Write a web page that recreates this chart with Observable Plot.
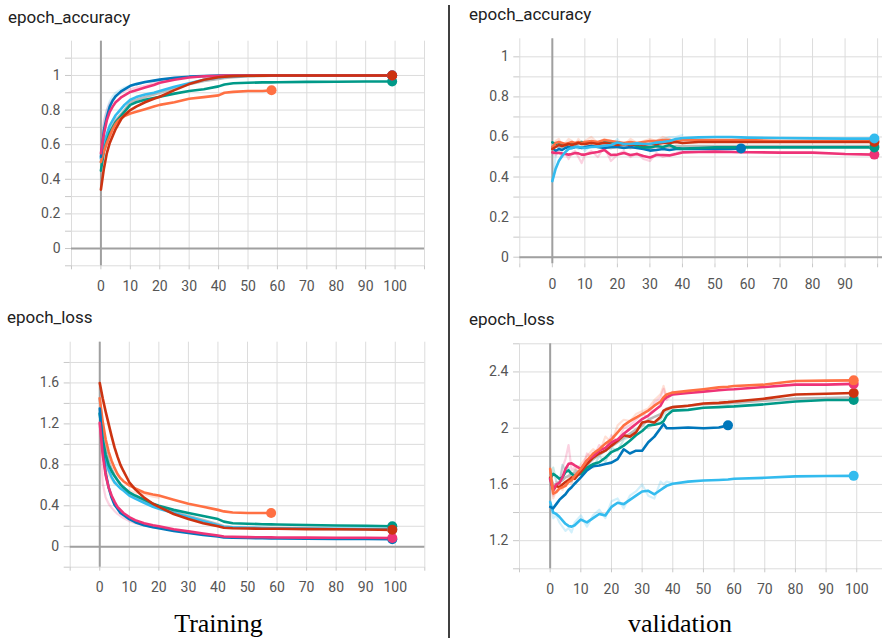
<!DOCTYPE html>
<html>
<head>
<meta charset="utf-8">
<script src="https://cdn.jsdelivr.net/npm/d3@7"></script>
<script src="https://cdn.jsdelivr.net/npm/@observablehq/plot@0.6"></script>
<style>
  html, body { margin: 0; padding: 0; background: #fff; }
  body { width: 882px; height: 638px; overflow: hidden; position: relative; font-family: Roboto, sans-serif; }
  .panel { position: absolute; }
  .panel svg { display: block; }
  #overlay { position: absolute; left: 0; top: 0; pointer-events: none; }
</style>
</head>
<body>
<div id="p1" class="panel" style="left:0;top:0"></div>
<div id="p2" class="panel" style="left:441px;top:0"></div>
<div id="p3" class="panel" style="left:0;top:300px"></div>
<div id="p4" class="panel" style="left:441px;top:300px"></div>
<svg id="overlay" width="882" height="638">
  <text x="8" y="23" font-family="Roboto" font-size="17" fill="#212121">epoch_accuracy</text>
  <text x="469" y="20" font-family="Roboto" font-size="17" fill="#212121">epoch_accuracy</text>
  <text x="7" y="323" font-family="Roboto" font-size="17" fill="#212121">epoch_loss</text>
  <text x="469" y="325" font-family="Roboto" font-size="17" fill="#212121">epoch_loss</text>
  <text x="218.5" y="632" text-anchor="middle" font-family="Liberation Serif" font-size="26" fill="#000">Training</text>
  <text x="680" y="632" text-anchor="middle" font-family="Liberation Serif" font-size="26" fill="#000">validation</text>
  <line x1="449" x2="449" y1="5" y2="638" stroke="#000" stroke-width="1.5"></line>
</svg>
<script>
// ---- series colours (TensorBoard palette) ----
const COLORS = { blue: "#0077bb", cyan: "#33bbee", teal: "#009988", orange: "#ff7043", red: "#cc3311", pink: "#ee3377", gray: "#bbbbbb" };

// ---- axis ticks ----
const X_GRID = [-10, 0, 10, 20, 30, 40, 50, 60, 70, 80, 90, 100, 110];
const X_LABELS = [0, 10, 20, 30, 40, 50, 60, 70, 80, 90, 100];
const X_LABELS_VAL_ACC = [0, 10, 20, 30, 40, 50, 60, 70, 80, 90];
const ACC_GRID_TRAIN = [-0.1, 0, 0.1, 0.2, 0.3, 0.4, 0.5, 0.6, 0.7, 0.8, 0.9, 1.0, 1.1];
const ACC_GRID_VAL = [0, 0.1, 0.2, 0.3, 0.4, 0.5, 0.6, 0.7, 0.8, 0.9, 1.0];
const ACC_LABELS = [0, 0.2, 0.4, 0.6, 0.8, 1];
const LOSS_GRID_TRAIN = [-0.2, 0, 0.2, 0.4, 0.6, 0.8, 1.0, 1.2, 1.4, 1.6, 1.8];
const LOSS_LABELS_TRAIN = [0, 0.4, 0.8, 1.2, 1.6];
const LOSS_GRID_VAL = [1.0, 1.2, 1.4, 1.6, 1.8, 2.0, 2.2, 2.4, 2.6];
const LOSS_LABELS_VAL = [1.2, 1.6, 2, 2.4];

// ---- Training accuracy ----
const trainAccEpochs = [0,1,2,3,4,5,6,7,8,10,12,15,18,20,25,30,35,40,42,45,50,55,58,60,70,80,90,99];
const trainAccGray   = [0.50,0.58,0.64,0.68,0.71,0.74,0.76,0.78,0.80,0.845,0.86,0.875,0.89,0.90,0.925,0.95,0.968,0.98,0.985,0.99,0.995,0.997,0.998,0.998,0.999,1,1,1];
const trainAccCyan   = [0.52,0.60,0.66,0.71,0.74,0.77,0.79,0.81,0.83,0.86,0.875,0.89,0.90,0.91,0.935,0.955,0.975,0.988,0.992,0.995,0.998,0.999,1,1,1,1,1,1];
const trainAccTeal   = [0.45,0.56,0.62,0.67,0.70,0.73,0.75,0.77,0.79,0.83,0.845,0.86,0.87,0.877,0.895,0.91,0.92,0.937,0.948,0.955,0.958,0.96,0.96,0.961,0.963,0.964,0.965,0.965];
const trainAccOrange = [0.50,0.56,0.61,0.65,0.69,0.72,0.74,0.755,0.765,0.78,0.79,0.805,0.82,0.83,0.845,0.865,0.875,0.885,0.90,0.905,0.91,0.91,0.915];
const trainAccBlue   = [0.53,0.68,0.76,0.82,0.855,0.88,0.895,0.91,0.92,0.94,0.95,0.962,0.97,0.976,0.986,0.993,0.997,0.999,1,1,1,1,1,1,1,1,1,1];
const trainAccPink   = [0.55,0.66,0.74,0.79,0.82,0.845,0.86,0.875,0.885,0.905,0.915,0.93,0.945,0.958,0.975,0.988,0.995,0.998,1,1,1,1,1,1,1,1,1,1];
const trainAccRed    = [0.34,0.46,0.55,0.61,0.65,0.69,0.72,0.75,0.77,0.80,0.82,0.845,0.865,0.877,0.915,0.95,0.975,0.99,0.993,0.996,0.998,0.999,1,1,1,1,1,1];
// raw (unsmoothed) faint traces, first epochs
const trainAccRawEpochs = [0,1,2,3,4,5,6,7,8,10,12,15,18,20];
const trainAccPinkRaw   = [0.60,0.74,0.80,0.84,0.86,0.88,0.89,0.90,0.91,0.92,0.93,0.94,0.955,0.96];
const trainAccCyanRaw   = [0.55,0.72,0.80,0.85,0.88,0.90,0.91,0.92,0.93,0.94,0.95,0.96,0.97,0.975];

// ---- Validation accuracy ----
const valAccEpochs = [0,1,2,3,4,5,6,7,8,9,10,12,14,16,18,20,22,24,26,28,30,32,34,36,38,40,45,50,55,58,60,70,80,90,99];
const valAccGray   = [0.56,0.555,0.55,0.55,0.555,0.55,0.55,0.555,0.55,0.55,0.55,0.555,0.55,0.55,0.545,0.55,0.55,0.545,0.55,0.55,0.545,0.55,0.55,0.55,0.555,0.555,0.555,0.555,0.555,0.555,0.555,0.555,0.555,0.555,0.555];
const valAccBlue   = [0.548,0.53,0.54,0.535,0.545,0.55,0.545,0.55,0.55,0.545,0.55,0.555,0.55,0.545,0.55,0.55,0.545,0.55,0.545,0.54,0.532,0.535,0.54,0.535,0.54,0.54,0.54,0.54,0.54,0.543];
const valAccPink   = [0.523,0.52,0.52,0.518,0.515,0.512,0.515,0.52,0.518,0.512,0.512,0.52,0.525,0.535,0.51,0.512,0.52,0.51,0.515,0.505,0.498,0.51,0.51,0.508,0.515,0.523,0.525,0.527,0.525,0.524,0.524,0.522,0.522,0.515,0.512];
const valAccTeal   = [0.573,0.565,0.57,0.565,0.56,0.565,0.57,0.565,0.57,0.575,0.568,0.575,0.57,0.578,0.572,0.565,0.565,0.568,0.555,0.548,0.548,0.555,0.55,0.56,0.545,0.542,0.545,0.548,0.548,0.548,0.548,0.548,0.548,0.548,0.548];
const valAccOrange = [0.55,0.57,0.575,0.57,0.565,0.57,0.575,0.57,0.575,0.57,0.575,0.58,0.575,0.585,0.58,0.575,0.57,0.575,0.57,0.575,0.58,0.58,0.585,0.585,0.58,0.585,0.585,0.585,0.585,0.585,0.585,0.58,0.58,0.58,0.58];
const valAccRed    = [0.54,0.55,0.56,0.555,0.56,0.565,0.56,0.565,0.57,0.565,0.565,0.57,0.565,0.57,0.565,0.56,0.565,0.56,0.565,0.56,0.565,0.565,0.57,0.57,0.575,0.57,0.575,0.575,0.575,0.575,0.575,0.575,0.575,0.575,0.575];
const valAccCyan   = [0.38,0.44,0.48,0.505,0.525,0.54,0.545,0.55,0.55,0.548,0.545,0.55,0.552,0.556,0.56,0.572,0.565,0.565,0.568,0.565,0.565,0.572,0.575,0.58,0.59,0.595,0.598,0.6,0.6,0.598,0.597,0.595,0.593,0.592,0.592];
// raw faint traces (epochs 0..40)
const valAccRawEpochs = [0,1,2,3,4,5,6,7,8,9,10,12,14,16,18,20,22,24,26,28,30,32,34,36,38,40];
const valAccPinkRaw   = [0.52,0.51,0.53,0.50,0.52,0.49,0.52,0.53,0.50,0.47,0.51,0.53,0.50,0.55,0.48,0.51,0.53,0.50,0.52,0.49,0.48,0.52,0.50,0.51,0.52,0.53];
const valAccCyanRaw   = [0.38,0.50,0.55,0.54,0.56,0.57,0.55,0.56,0.54,0.55,0.53,0.56,0.55,0.57,0.56,0.59,0.55,0.57,0.56,0.57,0.56,0.58,0.59,0.60,0.60,0.61];
const valAccOrangeRaw = [0.55,0.58,0.59,0.56,0.57,0.59,0.58,0.56,0.59,0.57,0.58,0.60,0.57,0.59,0.58,0.57,0.56,0.59,0.57,0.58,0.59,0.58,0.60,0.59,0.58,0.59];

// ---- Training loss ----
const trainLossEpochs = [0,1,2,3,4,5,6,7,8,10,12,15,18,20,25,30,35,40,42,45,50,55,58,60,70,80,90,99];
const trainLossGray   = [1.45,1.15,0.96,0.84,0.76,0.70,0.65,0.61,0.58,0.53,0.49,0.45,0.41,0.39,0.34,0.30,0.26,0.22,0.20,0.19,0.185,0.18,0.178,0.177,0.175,0.172,0.17,0.168];
const trainLossCyan   = [1.30,1.02,0.85,0.75,0.68,0.63,0.60,0.57,0.55,0.50,0.47,0.43,0.39,0.37,0.33,0.29,0.25,0.21,0.195,0.19,0.185,0.183,0.181,0.18,0.178,0.176,0.174,0.172];
const trainLossOrange = [1.45,1.22,1.05,0.93,0.84,0.77,0.71,0.67,0.64,0.60,0.57,0.53,0.51,0.50,0.46,0.42,0.39,0.36,0.345,0.335,0.33,0.33,0.33];
const trainLossTeal   = [1.30,1.05,0.90,0.80,0.74,0.69,0.65,0.61,0.58,0.53,0.50,0.46,0.42,0.40,0.36,0.33,0.30,0.27,0.245,0.23,0.225,0.22,0.218,0.217,0.212,0.208,0.205,0.20];
const trainLossBlue   = [1.35,0.95,0.72,0.58,0.48,0.41,0.37,0.33,0.31,0.27,0.24,0.21,0.19,0.18,0.155,0.135,0.115,0.10,0.09,0.088,0.085,0.083,0.082,0.081,0.079,0.077,0.075,0.073];
const trainLossPink   = [1.21,0.90,0.70,0.58,0.50,0.44,0.39,0.36,0.33,0.29,0.26,0.23,0.21,0.20,0.17,0.15,0.13,0.11,0.10,0.097,0.094,0.092,0.091,0.09,0.089,0.088,0.087,0.085];
const trainLossRed    = [1.60,1.45,1.32,1.20,1.08,0.97,0.88,0.80,0.74,0.63,0.56,0.48,0.42,0.39,0.32,0.27,0.23,0.20,0.185,0.18,0.178,0.176,0.175,0.175,0.172,0.17,0.168,0.165];
// raw faint traces, first epochs
const trainLossRawEpochs = [0,1,2,3,4,5,6,7,8,10,12,15,18,20];
const trainLossPinkRaw   = [1.21,0.62,0.48,0.42,0.38,0.35,0.32,0.30,0.28,0.25,0.23,0.21,0.19,0.18];
const trainLossOrangeRaw = [1.45,0.95,0.78,0.70,0.66,0.62,0.60,0.58,0.57,0.55,0.53,0.51,0.49,0.48];

// ---- Validation loss ----
const valLossEpochs = [0,1,2,3,4,5,6,7,8,10,12,14,16,18,20,22,24,26,28,30,32,34,36,37,38,40,45,50,55,58,60,70,80,90,99];
const valLossGray   = [1.66,1.60,1.60,1.62,1.63,1.65,1.66,1.68,1.68,1.70,1.74,1.78,1.81,1.84,1.87,1.90,1.93,1.96,1.99,2.02,2.06,2.08,2.10,2.12,2.14,2.15,2.16,2.17,2.175,2.178,2.18,2.195,2.21,2.215,2.22];
const valLossCyan   = [1.475,1.40,1.39,1.37,1.345,1.32,1.305,1.30,1.31,1.35,1.33,1.36,1.39,1.38,1.44,1.47,1.46,1.49,1.52,1.55,1.555,1.53,1.56,1.575,1.59,1.605,1.62,1.628,1.632,1.635,1.64,1.647,1.657,1.66,1.661];
const valLossBlue   = [1.44,1.43,1.46,1.49,1.51,1.53,1.56,1.58,1.605,1.65,1.70,1.73,1.735,1.745,1.755,1.78,1.85,1.82,1.84,1.84,1.90,1.94,2.00,2.03,2.00,2.00,2.005,2.00,2.005,2.02];
const valLossTeal   = [1.64,1.675,1.66,1.64,1.65,1.687,1.70,1.675,1.66,1.675,1.72,1.745,1.758,1.79,1.83,1.85,1.876,1.91,1.95,1.98,2.02,2.025,2.035,2.05,2.09,2.125,2.13,2.145,2.15,2.153,2.155,2.17,2.19,2.20,2.20];
const valLossRed    = [1.65,1.56,1.59,1.58,1.60,1.617,1.63,1.65,1.64,1.69,1.745,1.79,1.82,1.84,1.876,1.91,1.95,1.94,1.97,2.04,2.05,2.04,2.08,2.125,2.135,2.15,2.16,2.175,2.18,2.185,2.19,2.21,2.24,2.245,2.25];
const valLossPink   = [1.64,1.56,1.60,1.61,1.65,1.71,1.746,1.75,1.735,1.71,1.77,1.80,1.84,1.86,1.90,1.92,1.96,1.995,2.03,2.065,2.09,2.125,2.16,2.20,2.22,2.24,2.25,2.26,2.27,2.275,2.277,2.293,2.31,2.31,2.315];
const valLossOrange = [1.71,1.534,1.546,1.57,1.58,1.59,1.617,1.63,1.66,1.71,1.77,1.82,1.85,1.89,1.92,1.97,2.02,2.05,2.075,2.10,2.125,2.16,2.19,2.22,2.24,2.253,2.265,2.277,2.29,2.295,2.30,2.31,2.335,2.338,2.34];
// raw faint traces (epochs 0..40)
const valLossRawEpochs = [0,1,2,3,4,5,6,7,8,10,12,14,16,18,20,22,24,26,28,30,32,34,36,37,38,40];
const valLossCyanRaw   = [1.48,1.36,1.38,1.33,1.30,1.27,1.29,1.26,1.33,1.38,1.30,1.38,1.42,1.36,1.48,1.50,1.43,1.52,1.55,1.60,1.52,1.50,1.62,1.60,1.62,1.61];
const valLossPinkRaw   = [1.64,1.52,1.62,1.60,1.72,1.78,1.88,1.70,1.72,1.66,1.82,1.78,1.88,1.84,1.95,1.90,2.00,2.02,2.06,2.10,2.08,2.18,2.22,2.28,2.20,2.25];
const valLossOrangeRaw = [1.72,1.50,1.56,1.58,1.56,1.62,1.64,1.60,1.70,1.74,1.80,1.85,1.82,1.94,1.90,2.02,2.06,2.05,2.10,2.12,2.14,2.20,2.24,2.30,2.22,2.26];
const valLossTealRaw   = [1.64,1.72,1.62,1.60,1.74,1.70,1.72,1.62,1.70,1.68,1.76,1.72,1.80,1.76,1.86,1.84,1.92,1.94,1.98,2.02,2.00,2.04,2.06,2.10,2.12,2.13];

function toRows(epochs, values) {
  return values.map((v, i) => ({ epoch: epochs[i], value: v }));
}

function makePanel(cfg) {
  const { epochs, series, raw, xDomain, yDomain, width, height, margins, yGrid, yLabels, xLabels, zeroY } = cfg;
  const [mt, mr, mb, ml] = margins;
  const xs = X_GRID.filter(v => v >= xDomain[0] && v <= xDomain[1]);
  const ys = yGrid.filter(v => v >= yDomain[0] - 1e-9 && v <= yDomain[1] + 1e-9);
  const yKeys = new Set(yLabels.map(v => v.toFixed(2)));
  const marks = [
    Plot.ruleX(xs, { stroke: "#dcdcdc", strokeWidth: 1 }),
    Plot.ruleY(ys, { stroke: "#dcdcdc", strokeWidth: 1 }),
    Plot.axisX(xs, {
      tickSize: 4, tickPadding: 11, stroke: "#c8c8c8", fill: "#555", fontSize: 14, label: null,
      tickFormat: d => xLabels.includes(d) ? String(d) : ""
    }),
    Plot.axisY(ys, {
      tickSize: 6, tickPadding: 5, stroke: "#c8c8c8", fill: "#555", fontSize: 14, label: null,
      tickFormat: d => yKeys.has(d.toFixed(2)) ? String(+d.toFixed(2)) : ""
    }),
    Plot.ruleX([0], { stroke: "#a0a0a0", strokeWidth: 2 })
  ];
  if (zeroY) marks.push(Plot.ruleY([0], { stroke: "#a0a0a0", strokeWidth: 2 }));
  for (const r of (raw || [])) {
    marks.push(Plot.line(toRows(r.epochs, r.values), { x: "epoch", y: "value", stroke: r.color, strokeOpacity: 0.22, strokeWidth: 2.2 }));
  }
  for (const s of series) {
    marks.push(Plot.line(toRows(epochs, s.values), { x: "epoch", y: "value", stroke: s.color, strokeWidth: 2.6, strokeLinejoin: "round", strokeLinecap: "round" }));
  }
  for (const s of series) {
    const rows = toRows(epochs, s.values);
    marks.push(Plot.dot([rows[rows.length - 1]], { x: "epoch", y: "value", fill: s.color, r: 5 }));
  }
  return Plot.plot({
    width, height,
    marginTop: mt, marginRight: mr, marginBottom: mb, marginLeft: ml,
    x: { domain: xDomain, label: null },
    y: { domain: yDomain, label: null },
    style: { fontFamily: "Roboto, sans-serif", fontSize: "14px", background: "transparent", overflow: "visible" },
    marks
  });
}

document.getElementById("p1").append(makePanel({
  epochs: trainAccEpochs,
  series: [
    { values: trainAccGray, color: COLORS.gray },
    { values: trainAccCyan, color: COLORS.cyan },
    { values: trainAccTeal, color: COLORS.teal },
    { values: trainAccOrange, color: COLORS.orange },
    { values: trainAccBlue, color: COLORS.blue },
    { values: trainAccPink, color: COLORS.pink },
    { values: trainAccRed, color: COLORS.red }
  ],
  raw: [
    { epochs: trainAccRawEpochs, values: trainAccPinkRaw, color: COLORS.pink },
    { epochs: trainAccRawEpochs, values: trainAccCyanRaw, color: COLORS.cyan }
  ],
  xDomain: [-10, 110], yDomain: [-0.1, 1.198],
  width: 441, height: 300, margins: [40.7, 17, 34.7, 71],
  yGrid: ACC_GRID_TRAIN, yLabels: ACC_LABELS, xLabels: X_LABELS, zeroY: true
}));

document.getElementById("p2").append(makePanel({
  epochs: valAccEpochs,
  series: [
    { values: valAccGray, color: COLORS.gray },
    { values: valAccBlue, color: COLORS.blue },
    { values: valAccPink, color: COLORS.pink },
    { values: valAccTeal, color: COLORS.teal },
    { values: valAccOrange, color: COLORS.orange },
    { values: valAccRed, color: COLORS.red },
    { values: valAccCyan, color: COLORS.cyan }
  ],
  raw: [
    { epochs: valAccRawEpochs, values: valAccPinkRaw, color: COLORS.pink },
    { epochs: valAccRawEpochs, values: valAccCyanRaw, color: COLORS.cyan },
    { epochs: valAccRawEpochs, values: valAccOrangeRaw, color: COLORS.orange }
  ],
  xDomain: [-10, 101.5], yDomain: [-0.033, 1.09],
  width: 441, height: 300, margins: [38.3, 0, 36.7, 78.3],
  yGrid: ACC_GRID_VAL, yLabels: ACC_LABELS, xLabels: X_LABELS_VAL_ACC, zeroY: true
}));

document.getElementById("p3").append(makePanel({
  epochs: trainLossEpochs,
  series: [
    { values: trainLossGray, color: COLORS.gray },
    { values: trainLossCyan, color: COLORS.cyan },
    { values: trainLossOrange, color: COLORS.orange },
    { values: trainLossTeal, color: COLORS.teal },
    { values: trainLossBlue, color: COLORS.blue },
    { values: trainLossPink, color: COLORS.pink },
    { values: trainLossRed, color: COLORS.red }
  ],
  raw: [
    { epochs: trainLossRawEpochs, values: trainLossPinkRaw, color: COLORS.pink },
    { epochs: trainLossRawEpochs, values: trainLossOrangeRaw, color: COLORS.orange }
  ],
  xDomain: [-10, 110], yDomain: [-0.2, 1.998],
  width: 441, height: 338, margins: [41.7, 16.7, 71.3, 69.7],
  yGrid: LOSS_GRID_TRAIN, yLabels: LOSS_LABELS_TRAIN, xLabels: X_LABELS, zeroY: true
}));

document.getElementById("p4").append(makePanel({
  epochs: valLossEpochs,
  series: [
    { values: valLossGray, color: COLORS.gray },
    { values: valLossCyan, color: COLORS.cyan },
    { values: valLossBlue, color: COLORS.blue },
    { values: valLossTeal, color: COLORS.teal },
    { values: valLossRed, color: COLORS.red },
    { values: valLossPink, color: COLORS.pink },
    { values: valLossOrange, color: COLORS.orange }
  ],
  raw: [
    { epochs: valLossRawEpochs, values: valLossCyanRaw, color: COLORS.cyan },
    { epochs: valLossRawEpochs, values: valLossPinkRaw, color: COLORS.pink },
    { epochs: valLossRawEpochs, values: valLossOrangeRaw, color: COLORS.orange },
    { epochs: valLossRawEpochs, values: valLossTealRaw, color: COLORS.teal }
  ],
  xDomain: [-10, 108.4], yDomain: [1.0, 2.6],
  width: 441, height: 338, margins: [43.3, 0, 69.7, 78],
  yGrid: LOSS_GRID_VAL, yLabels: LOSS_LABELS_VAL, xLabels: X_LABELS, zeroY: false
}));
</script>
</body>
</html>
